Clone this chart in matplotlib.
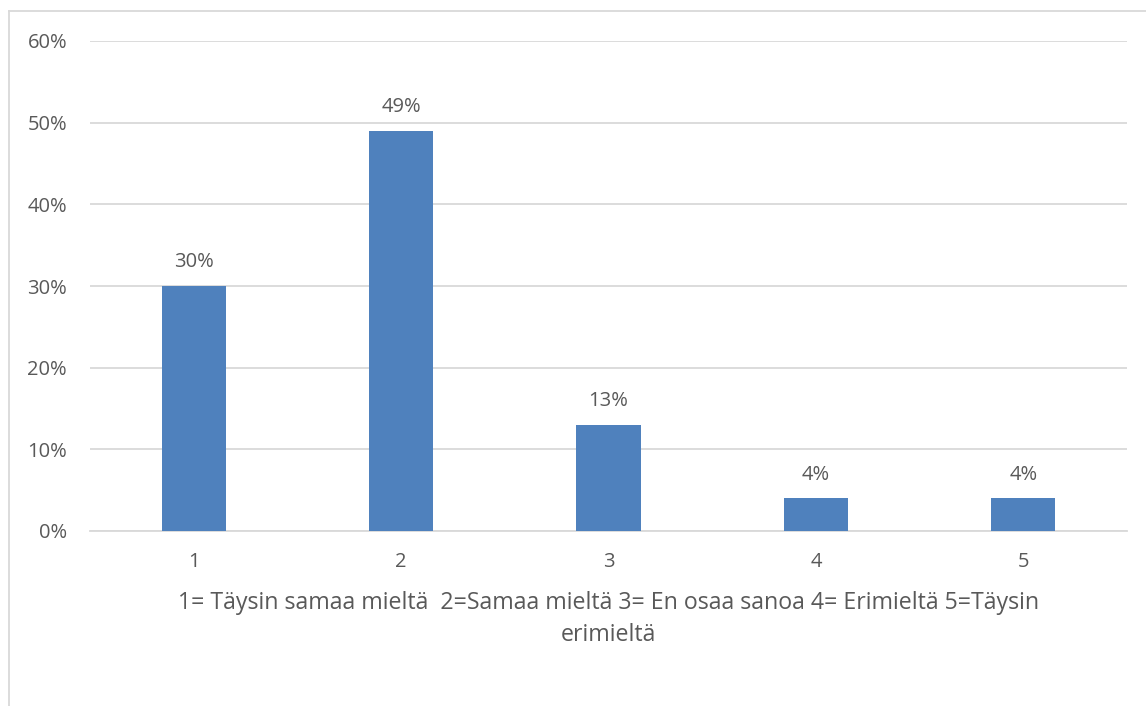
import matplotlib.pyplot as plt
from matplotlib.lines import Line2D

# Survey answer distribution (share of respondents)
categories = ['1', '2', '3', '4', '5']
shares = [30, 49, 13, 4, 4]
yticks = [0, 10, 20, 30, 40, 50, 60]
xlabel = '1= Täysin samaa mieltä  2=Samaa mieltä 3= En osaa sanoa 4= Erimieltä 5=Täysin\nerimieltä'

plt.rcParams['font.family'] = ['Open Sans', 'DejaVu Sans']
text_color = '#595959'
grid_color = '#D9D9D9'

W, H = 1146, 706
fig = plt.figure(figsize=(W / 100, H / 100), dpi=100)
ax = fig.add_axes([90 / W, 1 - 531 / H, (1127 - 90) / W, (531 - 41) / H])

x = range(len(categories))
bars = ax.bar(x, shares, width=0.31, color='#4F81BD', zorder=3)
for b, v in zip(bars, shares):
    ax.annotate(f'{v}%', (b.get_x() + b.get_width() / 2, v), xytext=(0, 17),
                textcoords='offset points', ha='center', va='center',
                fontsize=14.5, color=text_color)

ax.set_xlim(-0.5, len(categories) - 0.5)
ax.set_ylim(0, 60)
ax.set_yticks(yticks)
ax.set_yticklabels([f'{t}%' for t in yticks])
ax.set_xticks(list(x))
ax.set_xticklabels(categories)
ax.tick_params(axis='both', length=0, labelsize=14.5, labelcolor=text_color)
ax.tick_params(axis='x', pad=15)
ax.tick_params(axis='y', pad=16.5)
ax.grid(axis='y', color=grid_color, linewidth=1.3, zorder=0)
for s in ['top', 'right', 'left']:
    ax.spines[s].set_visible(False)
ax.spines['bottom'].set_color(grid_color)
ax.spines['bottom'].set_linewidth(1.3)
ax.set_xlabel(xlabel, fontsize=16.7, color=text_color, labelpad=14, linespacing=1.42)

# chart area border (left and top edges)
fig.add_artist(Line2D([8.5 / W, 8.5 / W], [0, 1 - 11 / H], color=grid_color, linewidth=1.3))
fig.add_artist(Line2D([8.5 / W, 1], [1 - 11 / H, 1 - 11 / H], color=grid_color, linewidth=1.3))

fig.savefig('out.png', dpi=100)
